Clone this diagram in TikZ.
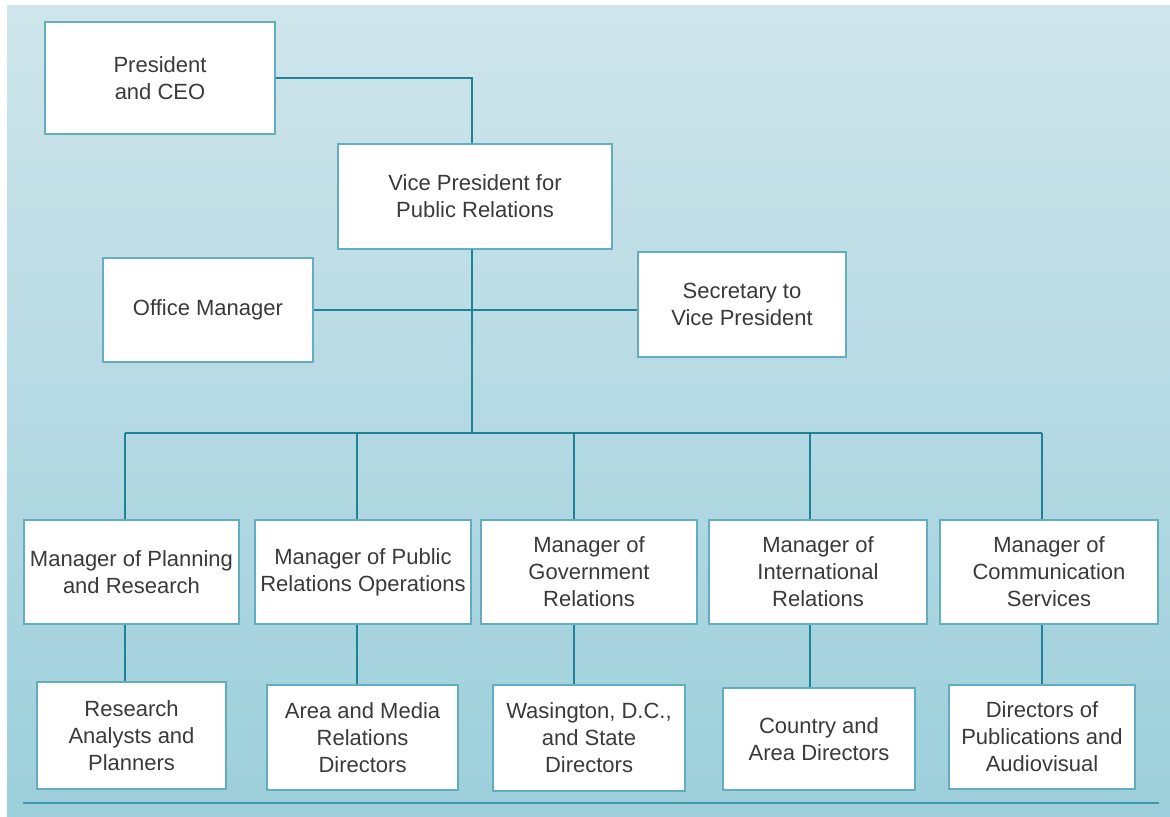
\documentclass[tikz,border=0pt]{standalone}
\usepackage{fontspec}
\setmainfont{Liberation Sans}
\usepackage{tikz}
\usetikzlibrary{positioning}
\usepackage{xcolor}
\definecolor{bgtop}{HTML}{CFE5EB}
\definecolor{bgbot}{HTML}{9CCFDB}
\definecolor{boxedge}{HTML}{62AEBF}
\definecolor{linkteal}{HTML}{1E8298}
\definecolor{ruleteal}{HTML}{3F98AC}
\definecolor{inkgray}{HTML}{3A3A3A}
\tikzset{
  post/.style={draw=boxedge,line width=0.7pt,fill=white,text=inkgray,align=center,inner sep=0pt,font=\fontsize{11}{13.5}\selectfont},
  link/.style={draw=linkteal,line width=1.1pt},
}

\begin{document}
\begin{tikzpicture}[x=0.5pt,y=-0.5pt]

\useasboundingbox (0,0) rectangle (1170,816);
\shade[top color=bgtop,bottom color=bgbot] (7,5) rectangle (1170,816);

\node[post,minimum width=115pt,minimum height=56pt] (pres) at (160,78) {President\\and CEO};
\node[post,minimum width=137pt,minimum height=52.5pt] (vp) at (475,196.5) {Vice President for\\Public Relations};
\node[post,minimum width=105pt,minimum height=52pt] (office) at (208,310) {Office Manager};
\node[post,minimum width=104pt,minimum height=52.5pt] (secr) at (742,304.5) {Secretary to\\Vice President};

\node[post,minimum width=107.5pt,minimum height=52pt] (m1) at (131.5,572) {Manager of Planning\\and Research};
\node[post,minimum width=108pt,minimum height=52pt] (m2) at (363,572) {Manager of Public\\Relations Operations};
\node[post,minimum width=108pt,minimum height=52pt] (m3) at (589,572) {Manager of\\Government\\Relations};
\node[post,minimum width=109pt,minimum height=52pt] (m4) at (818,572) {Manager of\\International\\Relations};
\node[post,minimum width=109pt,minimum height=52pt] (m5) at (1049,572) {Manager of\\Communication\\Services};

\node[post,minimum width=94.5pt,minimum height=53.5pt] (s1) at (131.5,735.5) {Research\\Analysts and\\Planners};
\node[post,minimum width=95.5pt,minimum height=52.5pt] (s2) at (362.5,737.5) {Area and Media\\Relations\\Directors};
\node[post,minimum width=96pt,minimum height=53pt] (s3) at (589,738) {Wasington, D.C.,\\and State\\Directors};
\node[post,minimum width=96pt,minimum height=51pt] (s4) at (819,739) {Country and\\Area Directors};
\node[post,minimum width=93pt,minimum height=52pt] (s5) at (1042,737) {Directors of\\Publications and\\Audiovisual};

\coordinate (trunk) at (472,433);
\coordinate (b1) at (125,433);
\coordinate (b2) at (357,433);
\coordinate (b3) at (574,433);
\coordinate (b4) at (810,433);
\coordinate (b5) at (1042,433);
\coordinate (rulel) at (23,803);
\coordinate (ruler) at (1159,803);

\draw[link] (pres.east) -| (trunk |- vp.north);
\draw[link] (trunk |- vp.south) -- (trunk);
\draw[link] (office.east) -- (secr.west |- office.east);
\draw[link] (b1) -- (b5);
\draw[link] (b1) -- (b1 |- m1.north);
\draw[link] (b2) -- (b2 |- m2.north);
\draw[link] (b3) -- (b3 |- m3.north);
\draw[link] (b4) -- (b4 |- m4.north);
\draw[link] (b5) -- (b5 |- m5.north);
\draw[link] (b1 |- m1.south) -- (b1 |- s1.north);
\draw[link] (b2 |- m2.south) -- (b2 |- s2.north);
\draw[link] (b3 |- m3.south) -- (b3 |- s3.north);
\draw[link] (b4 |- m4.south) -- (b4 |- s4.north);
\draw[link] (b5 |- m5.south) -- (b5 |- s5.north);
\draw[ruleteal,line width=1pt] (rulel) -- (ruler);
  \end{tikzpicture}
\end{document}
